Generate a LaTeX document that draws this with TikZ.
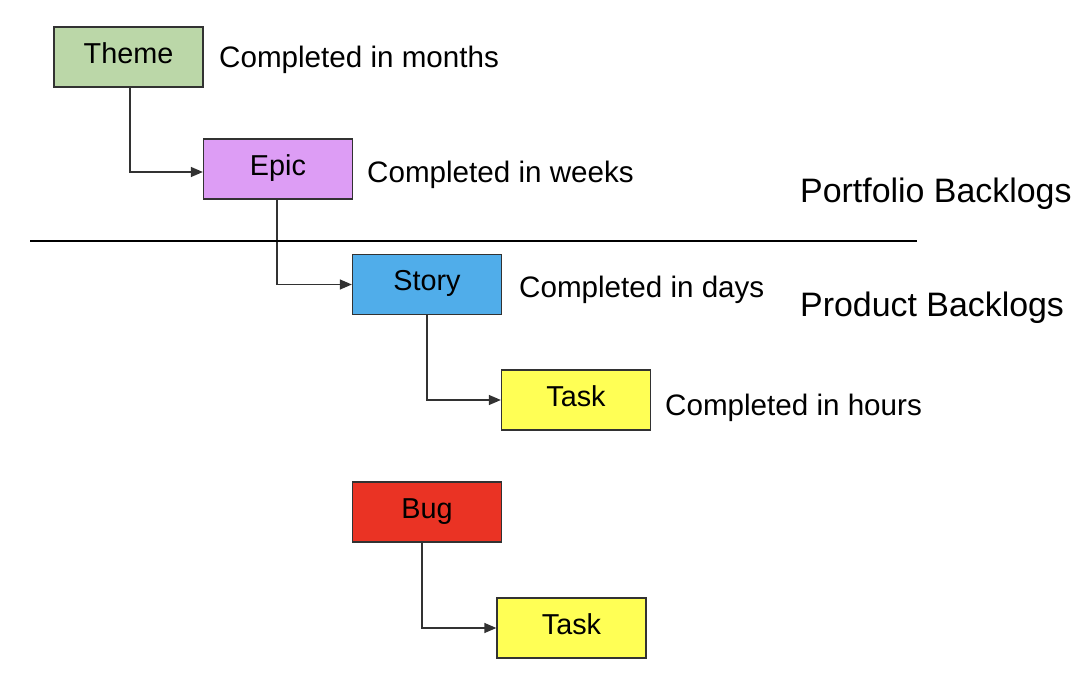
\documentclass[tikz,border=0pt]{standalone}
\usepackage{fontspec}
\setmainfont{Liberation Sans}
\usetikzlibrary{arrows.meta}
\definecolor{themeg}{RGB}{187,215,168}
\definecolor{epicv}{RGB}{221,157,245}
\definecolor{storyb}{RGB}{80,173,234}
\definecolor{tasky}{RGB}{255,255,85}
\definecolor{bugr}{RGB}{234,51,36}
\definecolor{edge}{RGB}{50,50,50}
\tikzset{
  item/.style={draw=edge, line width=1.3pt, minimum width=149pt, minimum height=60pt,
    inner sep=0pt, text height=20pt, text depth=7pt,
    font=\fontsize{28.8}{34}\selectfont},
  conn/.style={draw=edge, line width=1.3pt, -{Triangle[length=12pt,width=10pt]}},
  lbl/.style={anchor=base west, inner sep=0pt, font=\fontsize{29.6}{35}\selectfont},
  side/.style={anchor=base west, inner sep=0pt, font=\fontsize{33.9}{40}\selectfont},
  sep/.style={draw=black, line width=1.2pt}
}
\begin{document}
\begin{tikzpicture}[x=1pt,y=-1pt]
\useasboundingbox (0,0) rectangle (1088,676);
\node[item, fill=themeg] (theme) at (128.5,57) {Theme};
\node[item, fill=epicv] (epic) at (278,169) {Epic};
\node[item, fill=storyb] (story) at (427,284.5) {Story};
\node[item, fill=tasky] (task1) at (576,400) {Task};
\node[item, fill=bugr] (bug) at (427,512) {Bug};
\node[item, fill=tasky] (task2) at (571.5,628) {Task};

\draw[conn] ([xshift=1.5pt]theme.south) |- ([yshift=-3pt]epic.west);
\draw[conn] ([xshift=-1pt]epic.south) |- (story.west);
\draw[conn] (story.south) |- (task1.west);
\draw[conn] ([xshift=-5pt]bug.south) |- (task2.west);

\node[lbl] (l1) at (219,68) {Completed in months};
\node[lbl] (l2) at (367,183) {Completed in weeks};
\node[lbl] (l3) at (519,298) {Completed in days};
\node[lbl] (l4) at (665,416) {Completed in hours};
\node[side] (pf) at (800,203) {Portfolio Backlogs};
\node[side] (pd) at (800,317) {Product Backlogs};

\coordinate (sl) at (30,241);
\coordinate (sr) at (917,241);
\draw[sep] (sl) -- (sr);
\end{tikzpicture}
\end{document}
